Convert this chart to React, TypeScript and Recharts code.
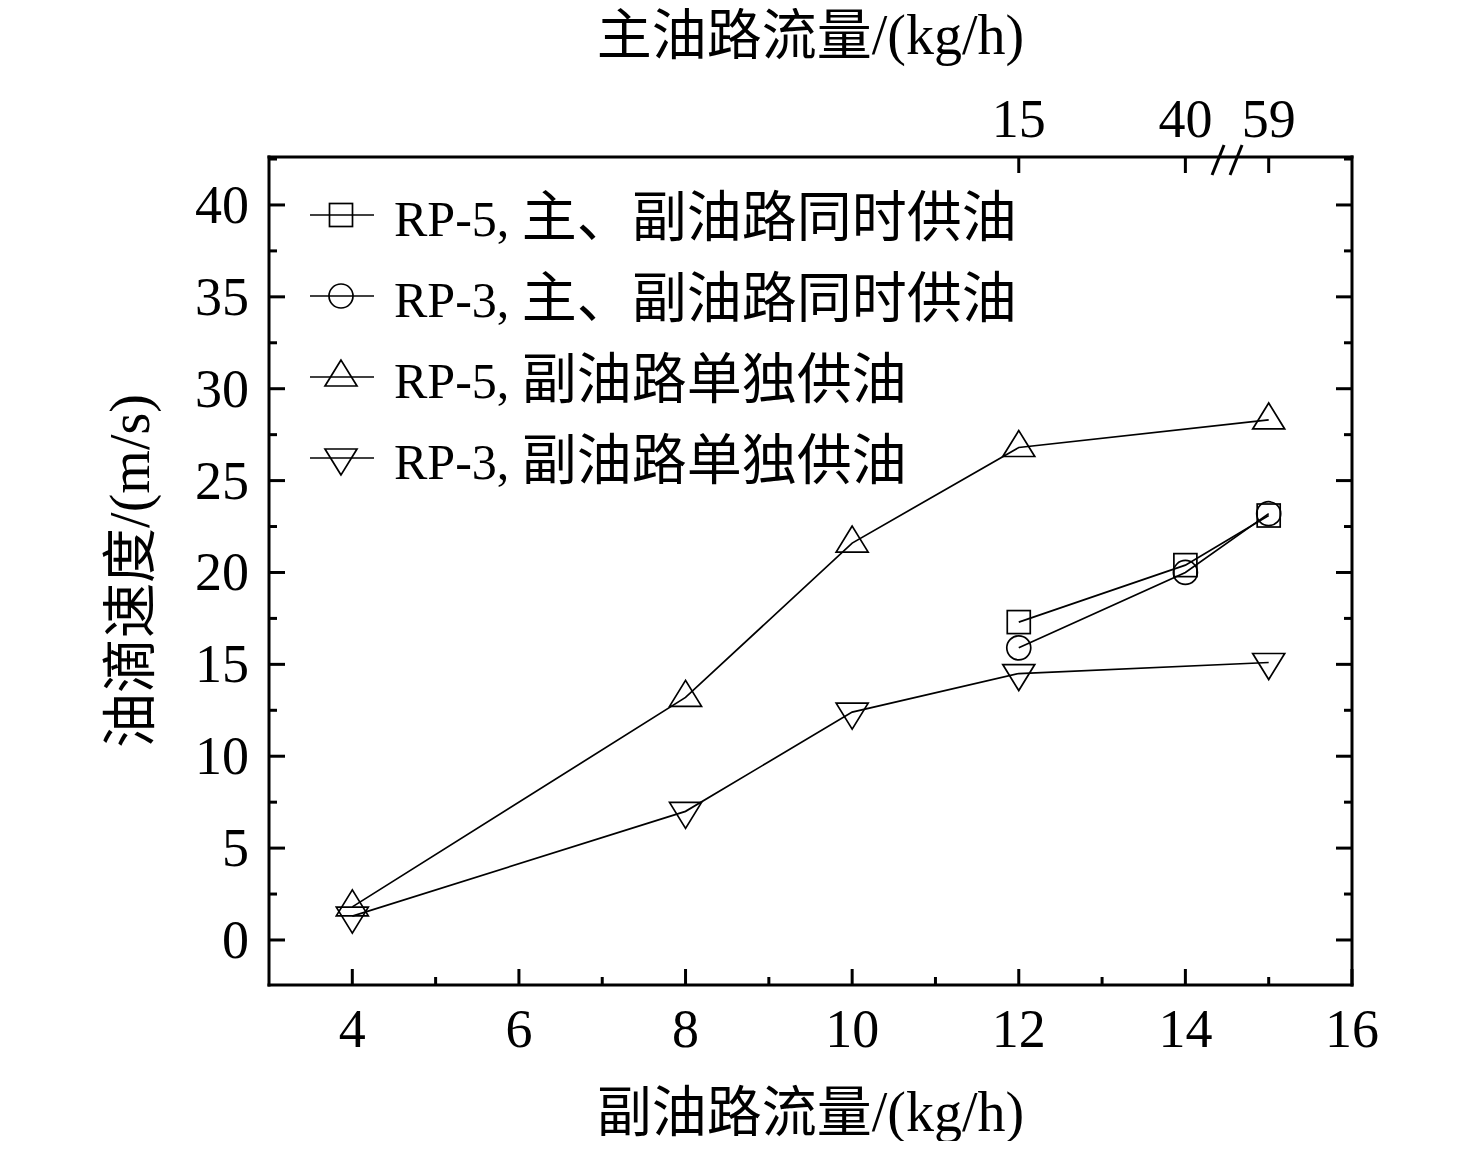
import { ComposedChart, Line, XAxis, YAxis } from 'recharts';

// 副油路流量 (kg/h) for the sub-nozzle-only runs
const subFlow = [4, 8, 10, 12, 15];
const rp5Sub = [1.8, 13.2, 21.6, 26.8, 28.3];
const rp3Sub = [1.3, 7.0, 12.4, 14.5, 15.1];

// runs with both main and sub nozzle fed
const bothFlow = [12, 14, 15];
const rp5Both = [17.3, 20.4, 23.1];
const rp3Both = [15.9, 20.0, 23.2];

const xMajor = [4, 6, 8, 10, 12, 14, 16];
const xMinor = [5, 7, 9, 11, 13, 15];
const yMajor = [0, 5, 10, 15, 20, 25, 30, 35, 40];
const yMinor = [2.5, 7.5, 12.5, 17.5, 22.5, 27.5, 32.5, 37.5, 42.5];

// top axis: main nozzle flow at the same points
const topTicks = [12, 14, 15];
const topLabels = ['15', '40', '59'];
const breakAt = 14.5;

const legendNames = [
  'RP-5, 主、副油路同时供油',
  'RP-3, 主、副油路同时供油',
  'RP-5, 副油路单独供油',
  'RP-3, 副油路单独供油',
];

const LATIN = "'Liberation Serif', 'Times New Roman', serif";
const CJK = "'Noto Sans CJK SC', 'Noto Sans CJK JP', sans-serif";
// full window; the wrapper cancels the body's 8px margin
const W = 1476;
const H = 1149;

type MarkerKind = 'square' | 'circle' | 'up' | 'down';

const toRows = (xs: number[], ys: number[]) => xs.map((x, i) => ({ x, y: ys[i] }));

const series: { name: string; kind: MarkerKind; data: { x: number; y: number }[] }[] = [
  { name: legendNames[0], kind: 'square', data: toRows(bothFlow, rp5Both) },
  { name: legendNames[1], kind: 'circle', data: toRows(bothFlow, rp3Both) },
  { name: legendNames[2], kind: 'up', data: toRows(subFlow, rp5Sub) },
  { name: legendNames[3], kind: 'down', data: toRows(subFlow, rp3Sub) },
];

function Marker({ cx, cy, kind }: { cx: number; cy: number; kind: MarkerKind }) {
  const common = { fill: 'none', stroke: '#000', strokeWidth: 1.7 };
  if (kind === 'square') return <rect x={cx - 11.5} y={cy - 11.5} width={23} height={23} {...common} />;
  if (kind === 'circle') return <circle cx={cx} cy={cy} r={12} {...common} />;
  if (kind === 'up')
    return <polygon points={`${cx},${cy - 17} ${cx - 16},${cy + 9} ${cx + 16},${cy + 9}`} {...common} />;
  return <polygon points={`${cx},${cy + 17} ${cx - 16},${cy - 9} ${cx + 16},${cy - 9}`} {...common} />;
}

const isCJK = (ch: string) => /[\u3000-\u303f\u4e00-\u9fff\uff00-\uffef]/.test(ch);

function splitRuns(s: string) {
  const out: { text: string; cjk: boolean }[] = [];
  for (const ch of s) {
    const c = isCJK(ch);
    if (out.length && out[out.length - 1].cjk === c) out[out.length - 1].text += ch;
    else out.push({ text: ch, cjk: c });
  }
  return out;
}

function MixedTspans({ text, latin, cjk }: { text: string; latin: number; cjk: number }) {
  return (
    <>
      {splitRuns(text).map((r, i) => (
        <tspan key={i} fontSize={r.cjk ? cjk : latin} fontFamily={r.cjk ? CJK : LATIN}>
          {r.text}
        </tspan>
      ))}
    </>
  );
}

const tickText = { fontFamily: LATIN, fontSize: 54, fill: '#000' };

const BottomTick = (p: any) => {
  const v = p.payload.value;
  const major = xMajor.includes(v);
  return (
    <g>
      <line x1={p.x} x2={p.x} y1={p.y} y2={p.y - (major ? 16 : 8)} stroke="#000" strokeWidth={3} />
      {major && (
        <text x={p.x} y={p.y + 62} textAnchor="middle" {...tickText}>
          {v}
        </text>
      )}
    </g>
  );
};

const TopTick = (p: any) => {
  const v = p.payload.value;
  if (v === breakAt) {
    return (
      <g stroke="#000" strokeWidth={3}>
        <line x1={p.x - 15} y1={p.y + 18} x2={p.x - 3} y2={p.y - 12} />
        <line x1={p.x + 3} y1={p.y + 18} x2={p.x + 15} y2={p.y - 12} />
      </g>
    );
  }
  const idx = topTicks.indexOf(v);
  return (
    <g>
      <line x1={p.x} x2={p.x} y1={p.y} y2={p.y + 16} stroke="#000" strokeWidth={3} />
      <text x={p.x} y={p.y - 20} textAnchor="middle" {...tickText}>
        {topLabels[idx]}
      </text>
    </g>
  );
};

const LeftTick = (p: any) => {
  const v = p.payload.value;
  const major = yMajor.includes(v);
  return (
    <g>
      <line x1={p.x} x2={p.x + (major ? 16 : 8)} y1={p.y} y2={p.y} stroke="#000" strokeWidth={3} />
      {major && (
        <text x={p.x - 20} y={p.y + 18} textAnchor="end" {...tickText}>
          {v}
        </text>
      )}
    </g>
  );
};

const RightTick = (p: any) => {
  const major = yMajor.includes(p.payload.value);
  return <line x1={p.x} x2={p.x - (major ? 16 : 8)} y1={p.y} y2={p.y} stroke="#000" strokeWidth={3} />;
};

const axisLine = { stroke: '#000', strokeWidth: 3, strokeLinecap: 'square' as const };

function LegendBox() {
  return (
    <div style={{ position: 'absolute', left: 310, top: 174, pointerEvents: 'none' }}>
      {series.map((s) => (
        <div key={s.name} style={{ display: 'flex', alignItems: 'center', height: 81 }}>
          <svg width={64} height={40} style={{ marginRight: 20 }}>
            <line x1={0} x2={64} y1={20} y2={20} stroke="#000" strokeWidth={1.7} />
            <Marker cx={31} cy={20} kind={s.kind} />
          </svg>
          <span style={{ whiteSpace: 'nowrap', lineHeight: 1, color: '#000' }}>
            {splitRuns(s.name).map((r, i) => (
              <span key={i} style={{ fontFamily: r.cjk ? CJK : LATIN, fontSize: r.cjk ? 55 : 50 }}>
                {r.text}
              </span>
            ))}
          </span>
        </div>
      ))}
    </div>
  );
}

export default function App() {
  const plotLeft = 269;
  const plotTop = 157;
  const plotW = 1083;
  const plotH = 828;
  const midY = plotTop + plotH / 2;
  return (
    <div style={{ position: 'relative', width: W, height: H, margin: -8, background: '#fff', overflow: 'hidden' }}>
      <ComposedChart
        width={W}
        height={H}
        margin={{ top: plotTop - 100, left: plotLeft - 120, right: W - plotLeft - plotW - 60, bottom: H - plotTop - plotH - 100 }}
      >
        <XAxis
          xAxisId="bottom"
          dataKey="x"
          type="number"
          domain={[3, 16]}
          allowDataOverflow
          ticks={[...xMajor, ...xMinor].sort((a, b) => a - b)}
          interval={0}
          height={100}
          tickSize={0}
          tickMargin={0}
          tickLine={false}
          axisLine={axisLine}
          tick={BottomTick}
          label={{
            content: () => (
              <text x={plotLeft + plotW / 2} y={1131} textAnchor="middle" fill="#000">
                <MixedTspans text="副油路流量/(kg/h)" latin={56} cjk={55} />
              </text>
            ),
          }}
        />
        <XAxis
          xAxisId="top"
          orientation="top"
          dataKey="x"
          type="number"
          domain={[3, 16]}
          allowDataOverflow
          ticks={[...topTicks, breakAt].sort((a, b) => a - b)}
          interval={0}
          height={100}
          tickSize={0}
          tickMargin={0}
          tickLine={false}
          axisLine={axisLine}
          tick={TopTick}
          label={{
            content: () => (
              <text x={plotLeft + plotW / 2} y={54} textAnchor="middle" fill="#000">
                <MixedTspans text="主油路流量/(kg/h)" latin={56} cjk={55} />
              </text>
            ),
          }}
        />
        <YAxis
          yAxisId="left"
          type="number"
          domain={[-2.45, 42.61]}
          allowDataOverflow
          ticks={[...yMajor, ...yMinor].sort((a, b) => a - b)}
          interval={0}
          width={120}
          tickSize={0}
          tickMargin={0}
          tickLine={false}
          axisLine={axisLine}
          tick={LeftTick}
          label={{
            content: () => (
              <text
                x={149}
                y={midY}
                textAnchor="middle"
                fill="#000"
                transform={`rotate(-90, 149, ${midY})`}
              >
                <MixedTspans text="油滴速度/(m/s)" latin={56} cjk={55} />
              </text>
            ),
          }}
        />
        <YAxis
          yAxisId="right"
          orientation="right"
          type="number"
          domain={[-2.45, 42.61]}
          allowDataOverflow
          ticks={[...yMajor, ...yMinor].sort((a, b) => a - b)}
          interval={0}
          width={60}
          tickSize={0}
          tickMargin={0}
          tickLine={false}
          axisLine={axisLine}
          tick={RightTick}
        />
        {series.map((s) => (
          <Line
            key={s.name}
            xAxisId="bottom"
            yAxisId="left"
            data={s.data}
            dataKey="y"
            name={s.name}
            type="linear"
            stroke="#000"
            strokeWidth={1.7}
            isAnimationActive={false}
            dot={(d: any) => <Marker key={`${s.kind}-${d.index}`} cx={d.cx} cy={d.cy} kind={s.kind} />}
            activeDot={false}
          />
        ))}
      </ComposedChart>
      <LegendBox />
    </div>
  );
}
